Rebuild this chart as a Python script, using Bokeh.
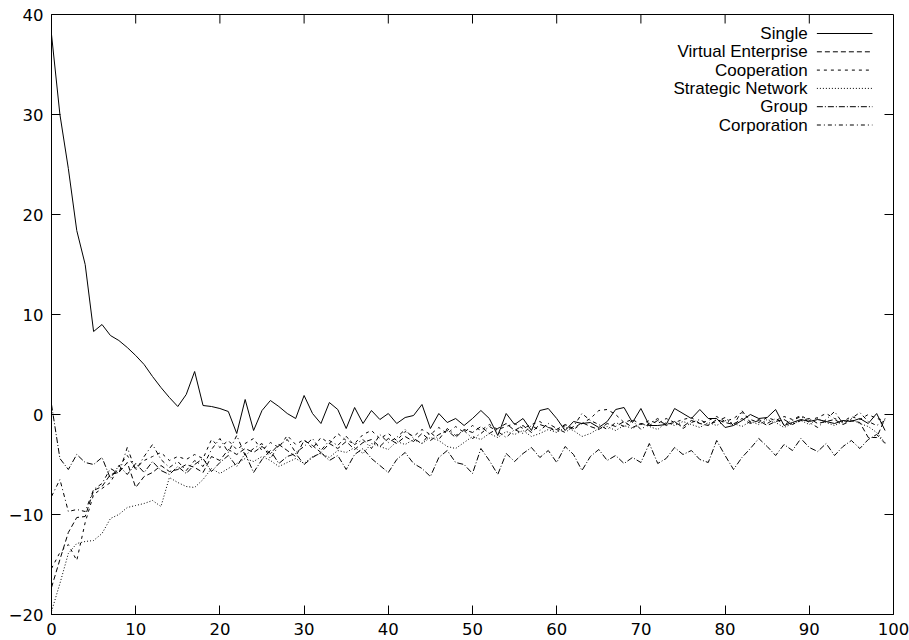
from bokeh.plotting import figure
from bokeh.models import Range1d, FixedTicker
from bokeh.core.properties import value
from bokeh.embed import file_html
from bokeh.resources import INLINE

steps = list(range(100))

single = [38.0, 30.0, 24.6, 18.4, 15.0, 8.3, 9.0, 7.9, 7.4, 6.7,
          5.9, 5.0, 3.8, 2.7, 1.7, 0.8, 2.0, 4.3, 0.9, 0.8,
          0.6, 0.3, -1.9, 1.5, -1.6, 0.4, 1.4, 0.8, 0.1, -0.4,
          1.9, 0.1, -0.9, 1.2, 0.5, -1.4, 0.7, -0.9, 0.4, -0.5,
          0.1, -0.9, -0.3, -0.1, 1.0, -1.4, 0.1, -0.8, -0.4, -1.1,
          -0.4, 0.4, -0.4, -2.1, 0.1, -1.0, -0.4, -1.6, 0.4, 0.6,
          -0.4, -1.6, -0.7, -0.9, -0.8, -1.3, -0.7, 0.5, 0.7, -0.8,
          0.6, -1.1, -1.1, -1.0, 0.6, 0.1, -0.4, 0.5, -0.4, -0.4,
          -1.3, -1.1, -0.6, 0.0, -0.4, -0.3, 0.5, -1.1, -0.8, -0.5,
          -0.7, -0.5, -0.7, -0.9, -0.6, -0.7, -0.4, -0.9, 0.1, -1.6]

virtual_enterprise = [-17.3, -14.5, -11.8, -10.3, -10.2, -7.6, -7.2, -6.0, -5.8, -4.8,
                      -7.3, -6.2, -5.8, -5.1, -5.7, -5.5, -5.0, -5.3, -5.8, -4.2,
                      -4.6, -3.5, -4.0, -3.4, -3.8, -3.2, -3.9, -3.0, -3.6, -4.2,
                      -2.6, -3.1, -3.8, -2.9, -3.4, -2.7, -3.5, -2.8, -2.5, -3.2,
                      -2.4, -2.9, -2.2, -2.7, -1.9, -2.6, -2.0, -1.6, -2.3, -1.5,
                      -1.8, -1.2, -1.9, -1.4, -0.9, -1.6, -1.1, -1.8, -1.0, -1.3,
                      -1.5, -1.0, -1.4, -0.8, -1.2, -1.5, -0.9, -1.2, -0.7, -1.3,
                      -0.9, -1.1, -0.6, -1.0, -0.8, -1.2, -0.6, -0.9, -1.1, -0.5,
                      -0.8, -1.0, -0.4, -0.9, -0.6, -1.1, -0.7, -0.5, -1.0, -0.6,
                      -0.4, -0.9, -0.7, -0.5, -1.0, -0.6, -0.8, -2.3, -2.3, -0.4]

cooperation = [-15.4, -13.8, -13.0, -14.6, -10.8, -8.0, -7.4, -6.8, -5.2, -4.1,
               -5.4, -4.6, -4.2, -3.8, -4.6, -4.2, -4.5, -4.0, -4.4, -2.5,
               -3.3, -2.6, -3.5, -2.9, -2.4, -3.6, -2.8, -3.3, -2.1, -3.0,
               -2.5, -3.4, -2.3, -2.9, -1.9, -2.6, -2.9, -2.0, -1.6, -2.4,
               -1.9, -2.6, -1.7, -2.2, -1.5, -2.0, -1.3, -1.9, -1.2, -1.8,
               -1.1, -1.6, -1.0, -1.5, -1.2, -0.9, -1.4, -1.0, -0.7, -1.3,
               -1.7, -1.1, -1.5, -0.9, -0.4, 0.4, 0.5, 0.0, -0.8, -0.5,
               -1.0, -0.6, -0.9, -0.4, -0.8, -0.5, -0.3, -0.9, -0.6, -0.2,
               -0.7, -0.4, 0.2, -0.5, -0.8, -0.3, -0.6, -0.2, -0.5, -0.1,
               -0.6, -0.3, 0.1, -0.4, -0.7, -0.2, -0.5, 0.0, -0.4, -0.6]

strategic_network = [-19.7, -16.9, -13.9, -12.9, -12.7, -12.6, -11.9, -10.4, -10.0, -9.3,
                     -9.1, -8.9, -8.6, -9.2, -6.3, -6.8, -7.2, -7.3, -6.5, -5.4,
                     -5.9, -5.4, -4.9, -4.4, -4.7, -4.2, -4.6, -5.2, -4.8, -4.4,
                     -4.9, -4.2, -3.9, -4.3, -3.6, -3.8, -3.3, -3.9, -2.9, -3.2,
                     -3.5, -2.7, -3.0, -2.5, -2.9, -2.3, -2.6, -3.2, -3.4, -2.8,
                     -2.2, -2.5, -1.9, -2.3, -1.7, -2.0, -1.6, -2.2, -1.9, -1.5,
                     -1.8, -1.3, -1.6, -2.2, -1.9, -1.4, -1.2, -1.6, -1.1, -1.4,
                     -0.9, -1.2, -1.5, -0.8, -1.1, -0.7, -1.0, -1.3, -0.8, -1.1,
                     -0.6, -0.9, -1.2, -0.7, -1.0, -0.5, -0.8, -1.3, -0.9, -0.6,
                     -1.0, -0.4, -0.8, -1.1, -0.7, -0.5, -0.9, -1.2, -1.8, -2.8]

group = [1.0, -4.4, -5.5, -4.0, -4.8, -5.0, -4.3, -6.4, -5.1, -6.0,
         -4.9, -5.8, -4.7, -5.6, -6.0, -5.2, -5.9, -5.0, -4.4, -5.7,
         -4.8, -4.1, -5.2, -3.9, -5.8, -4.5, -3.6, -4.9, -4.2, -3.9,
         -5.0, -4.3, -3.8, -4.6, -4.1, -5.5, -4.0, -3.4, -4.4, -5.1,
         -5.8, -4.5, -3.8, -4.9, -5.4, -6.2, -4.3, -3.6, -4.8, -5.0,
         -5.9, -3.4, -4.6, -6.0, -3.9, -4.7, -3.9, -3.3, -4.3, -3.6,
         -4.8, -3.2, -4.0, -5.6, -4.2, -3.5, -4.6, -4.1, -4.9, -4.3,
         -4.8, -2.9, -4.9, -4.4, -3.3, -4.0, -3.6, -4.5, -4.8, -2.6,
         -4.1, -5.5, -4.3, -3.4, -2.4, -3.2, -4.1, -3.0, -3.6, -2.4,
         -3.3, -3.7, -2.9, -4.1, -3.2, -2.6, -3.4, -2.5, -2.0, -2.9]

corporation = [-8.2, -6.5, -9.7, -9.5, -9.7, -7.5, -6.9, -5.4, -5.9, -3.3,
               -5.6, -4.2, -3.0, -4.5, -5.3, -4.7, -5.6, -4.6, -5.2, -3.5,
               -2.4, -3.8, -2.1, -4.1, -3.4, -2.9, -4.4, -3.1, -2.5, -3.8,
               -3.2, -2.4, -3.6, -2.6, -3.1, -2.2, -3.0, -2.5, -3.4, -2.0,
               -2.8, -2.3, -1.5, -2.4, -2.9, -1.8, -2.5, -1.4, -2.1, -1.6,
               -2.4, -1.9, -1.2, -1.7, -2.3, -1.5, -1.9, -1.1, -1.6, -0.9,
               -1.4, -1.8, -1.2, 0.1, -0.6, -1.0, -1.5, -0.8, -1.2, -0.6,
               -1.5, -0.9, -0.4, -1.1, -0.7, -1.4, -0.8, -0.5, -1.0, -0.7,
               -0.3, -1.1, 0.4, -0.8, -0.5, -0.9, -0.4, -1.0, -0.6, -0.2,
               -0.8, -1.3, -0.5, 0.3, -0.9, -0.4, 0.2, -0.7, -1.1, -0.6]

series_names = ["Single", "Virtual Enterprise", "Cooperation",
                "Strategic Network", "Group", "Corporation"]
series_values = [single, virtual_enterprise, cooperation,
                 strategic_network, group, corporation]
dashes = ["solid", "5 3", "3 4", "1 2", "6 2 1 2", "4 3 1 3"]

x_ticks = [0, 10, 20, 30, 40, 50, 60, 70, 80, 90, 100]
y_ticks = [-20, -10, 0, 10, 20, 30, 40]

X0, X1, Y0, Y1 = 0, 100, -20, 40
W, H = 909, 640
BL, BR, BT, BB = 51, 16, 14, 26
TICK_PX = 9
px_per_x = (W - BL - BR) / (X1 - X0)
px_per_y = (H - BT - BB) / (Y1 - Y0)

TICK_FONT = "DejaVu Sans"
TICK_FS = "16.5px"
KEY_FONT = "Liberation Sans"
KEY_FS = "17px"

p = figure(width=W, height=H, output_backend="svg", toolbar_location=None,
           x_range=Range1d(X0, X1), y_range=Range1d(Y0, Y1),
           min_border_left=BL, min_border_right=BR, min_border_top=BT,
           min_border_bottom=BB)
p.xgrid.visible = False
p.ygrid.visible = False
p.outline_line_color = "black"
p.outline_line_width = 1
p.background_fill_color = "white"
p.border_fill_color = "white"

for ax, ticks in ((p.xaxis[0], x_ticks), (p.yaxis[0], y_ticks)):
    ax.ticker = FixedTicker(ticks=ticks)
    ax.major_tick_in = TICK_PX
    ax.major_tick_out = 0
    ax.minor_tick_in = 0
    ax.minor_tick_out = 0
    ax.axis_line_color = "black"
    ax.major_tick_line_color = "black"
    ax.major_label_text_font = TICK_FONT
    ax.major_label_text_font_size = TICK_FS
    ax.major_label_text_color = "black"
    ax.major_label_standoff = 8

# mirrored inward ticks on the top and right borders
tx = [t for t in x_ticks if X0 < t < X1]
p.segment(x0=tx, y0=[Y1] * len(tx), x1=tx, y1=[Y1 - TICK_PX / px_per_y] * len(tx),
          line_color="black", line_width=1)
ty = [t for t in y_ticks if Y0 < t < Y1]
p.segment(x0=[X1] * len(ty), y0=ty, x1=[X1 - TICK_PX / px_per_x] * len(ty), y1=ty,
          line_color="black", line_width=1)

for vals, dash in zip(series_values, dashes):
    p.line(steps, vals, line_color="black", line_width=1, line_dash=dash)

# key (gnuplot style: label right-aligned, sample to its right)
key_text_x = 89.8
key_line_x0 = 90.9
key_line_x1 = 97.5
key_top = 38.1
key_step = 1.83
for i, (name, dash) in enumerate(zip(series_names, dashes)):
    yy = key_top - key_step * i
    p.text(x=[key_text_x], y=[yy], text=[name], text_align="right",
           text_baseline="middle", text_font=value(KEY_FONT), text_font_size=KEY_FS,
           text_color="black")
    p.line([key_line_x0, key_line_x1], [yy, yy], line_color="black",
           line_width=1, line_dash=dash)

open("out.html", "w").write(file_html(p, INLINE))
